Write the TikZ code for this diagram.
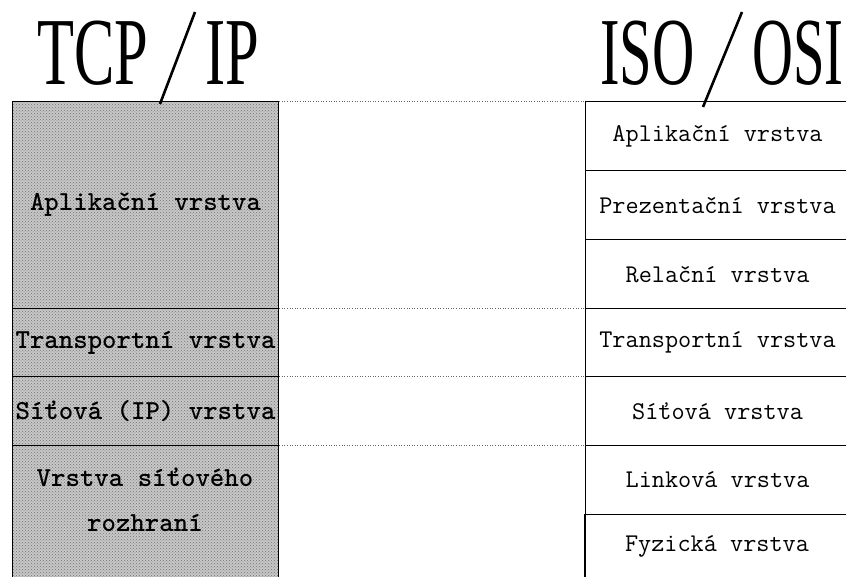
\documentclass[tikz,border=0pt]{standalone}
\usepackage{fontspec}
\newfontfamily\titlefont{Liberation Serif}
\usetikzlibrary{patterns}
\begin{document}
\begin{tikzpicture}[x=1pt,y=-1pt,
  title/.style={anchor=base west, inner sep=0pt, font=\titlefont\fontsize{96}{96}\selectfont},
  slashline/.style={line width=2.6pt},
  tcpcell/.style={draw=black, line width=1.1pt, anchor=north west, inner sep=0pt,
     minimum width=266, preaction={fill=black!22}, pattern=crosshatch dots, pattern color=black!55,
     font=\ttfamily\bfseries\fontsize{27.5}{45}\selectfont, align=center},
  osicell/.style={draw=black, line width=1.1pt, anchor=north west, inner sep=0pt,
     minimum width=264, font=\ttfamily\fontsize{25.5}{30}\selectfont},
  guide/.style={dotted, line width=0.6pt, black!60}]
\useasboundingbox (0,0) rectangle (846,577);
% titles
\node[title] (tcp) at (37,85) {\scalebox{0.63}[1]{TCP}};
\node[title] (ip) at (205,85) {\scalebox{0.63}[1]{IP}};
\node[title] (iso) at (600,85) {\scalebox{0.61}[1]{ISO}};
\node[title] (osi) at (752,85) {\scalebox{0.59}[1]{OSI}};
% TCP/IP stack
\node[tcpcell, minimum height=207] (l1) at (12,101) {Aplikační vrstva};
\node[tcpcell, minimum height=68] (l2) at (12,308) {Transportní vrstva};
\node[tcpcell, minimum height=69] (l3) at (12,376) {Síťová (IP) vrstva};
\node[tcpcell, minimum height=145] (l4) at (12,445) {};
\node[inner sep=0pt, font=\ttfamily\bfseries\fontsize{27.5}{45}\selectfont, align=center] (l4t) at (145,500) {Vrstva síťového\\rozhraní};
% ISO/OSI stack
\node[osicell, minimum height=69] (r1) at (585,101) {Aplikační vrstva};
\node[osicell, minimum height=69] (r2) at (585,170) {Prezentační vrstva};
\node[osicell, minimum height=69] (r3) at (585,239) {Relační vrstva};
\node[osicell, minimum height=68] (r4) at (585,308) {Transportní vrstva};
\node[osicell, minimum height=69] (r5) at (585,376) {Síťová vrstva};
\node[osicell, minimum height=69] (r6) at (585,445) {Linková vrstva};
\node[osicell, minimum height=64] (r7) at (585,514) {};
\node[inner sep=0pt, font=\ttfamily\fontsize{25.5}{30}\selectfont] (r7t) at (717,546) {Fyzická vrstva};
\draw[line width=1.1pt] (r7.north west) -- ++(0,80);
% slashes
\coordinate (s1a) at (195,12); \coordinate (s1b) at (160,104);
\coordinate (s2a) at (742,12); \coordinate (s2b) at (703,107);
\draw[slashline] (s1a) -- (s1b);
\draw[slashline] (s2a) -- (s2b);
% guides
\draw[guide] (l1.north east) -- (r1.north west);
\draw[guide] (l2.north east) -- (r4.north west);
\draw[guide] (l3.north east) -- (r5.north west);
\draw[guide] (l4.north east) -- (r6.north west);
\end{tikzpicture}
\end{document}
